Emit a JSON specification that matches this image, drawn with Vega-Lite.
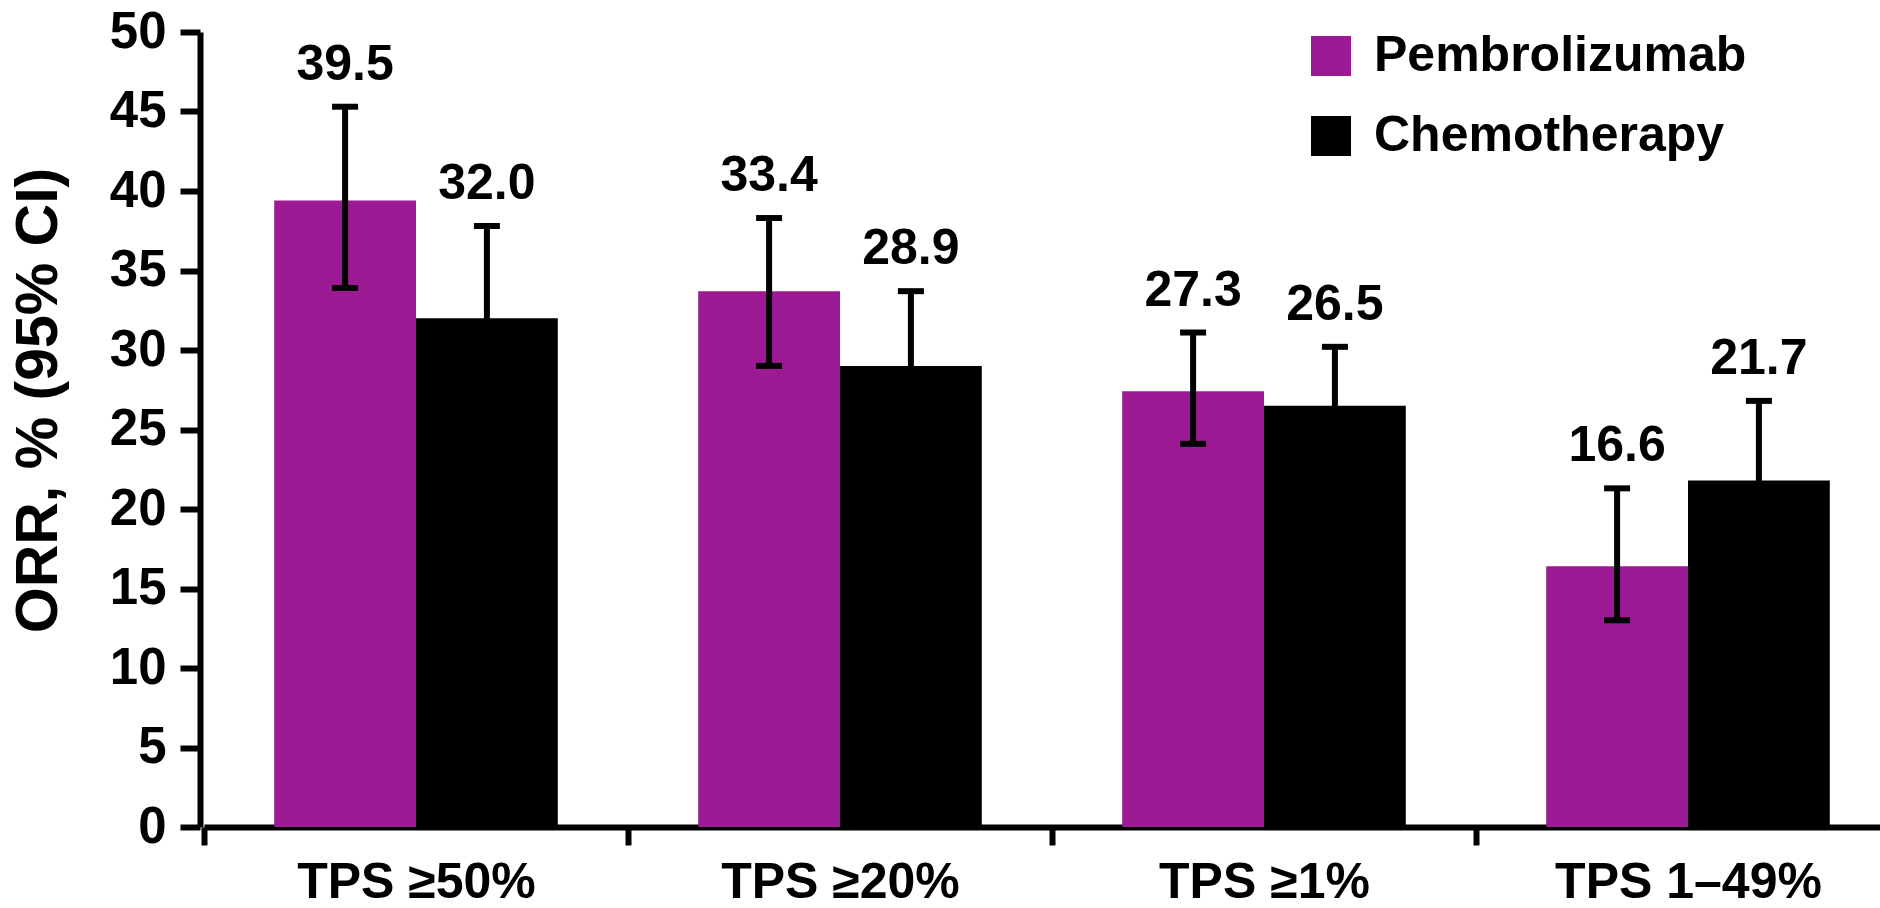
{
  "$schema": "https://vega.github.io/schema/vega-lite/v6.json",
  "width": 1680,
  "height": 795,
  "autosize": "none",
  "padding": {"left": 200, "top": 32, "right": 0, "bottom": 81},
  "background": "white",
  "config": {
    "font": "Liberation Sans",
    "view": {"stroke": null},
    "axis": {"grid": false}
  },
  "data": {
    "values": [
      {"group": "TPS ≥50%", "arm": "Pembrolizumab", "value": 39.4, "label": "39.5", "lo": 33.9, "hi": 45.3},
      {"group": "TPS ≥50%", "arm": "Chemotherapy", "value": 32.0, "label": "32.0", "lo": 26.6, "hi": 37.8},
      {"group": "TPS ≥20%", "arm": "Pembrolizumab", "value": 33.7, "label": "33.4", "lo": 29.0, "hi": 38.3},
      {"group": "TPS ≥20%", "arm": "Chemotherapy", "value": 29.0, "label": "28.9", "lo": 24.5, "hi": 33.7},
      {"group": "TPS ≥1%", "arm": "Pembrolizumab", "value": 27.4, "label": "27.3", "lo": 24.1, "hi": 31.1},
      {"group": "TPS ≥1%", "arm": "Chemotherapy", "value": 26.5, "label": "26.5", "lo": 23.4, "hi": 30.2},
      {"group": "TPS 1–49%", "arm": "Pembrolizumab", "value": 16.4, "label": "16.6", "lo": 13.0, "hi": 21.3},
      {"group": "TPS 1–49%", "arm": "Chemotherapy", "value": 21.8, "label": "21.7", "lo": 17.0, "hi": 26.8}
    ]
  },
  "encoding": {
    "x": {
      "field": "group",
      "type": "nominal",
      "sort": ["TPS ≥50%", "TPS ≥20%", "TPS ≥1%", "TPS 1–49%"],
      "scale": {"range": [4, 1700], "paddingInner": 0, "paddingOuter": 0},
      "axis": {
        "title": null,
        "labelAngle": 0,
        "labelFontSize": 50,
        "labelFontWeight": "bold",
        "labelColor": "black",
        "labelPadding": 12,
        "labelLimit": 0,
        "tickBand": "extent",
        "tickSize": 18,
        "tickWidth": 6,
        "tickColor": "black",
        "domainWidth": 6,
        "domainColor": "black"
      }
    },
    "xOffset": {
      "field": "arm",
      "type": "nominal",
      "sort": ["Pembrolizumab", "Chemotherapy"],
      "scale": {"paddingInner": 0, "paddingOuter": 0.495}
    }
  },
  "layer": [
    {
      "mark": {"type": "bar"},
      "encoding": {
        "y": {
          "field": "value",
          "type": "quantitative",
          "scale": {"domain": [0, 50], "nice": false, "zero": true},
          "axis": {
            "title": "ORR, % (95% CI)",
            "titleFontSize": 59,
            "titleFontWeight": "bold",
            "titleColor": "black",
            "titleAngle": -90,
            "titleX": -162,
            "titleY": 368,
            "titleAlign": "center",
            "titleBaseline": "middle",
            "values": [0, 5, 10, 15, 20, 25, 30, 35, 40, 45, 50],
            "labelFontSize": 51,
            "labelFontWeight": "bold",
            "labelColor": "black",
            "labelPadding": 14,
            "tickSize": 20,
            "tickWidth": 6,
            "tickColor": "black",
            "domainWidth": 6,
            "domainColor": "black"
          }
        },
        "color": {
          "field": "arm",
          "type": "nominal",
          "sort": ["Pembrolizumab", "Chemotherapy"],
          "scale": {"domain": ["Pembrolizumab", "Chemotherapy"], "range": ["#9C1A94", "#000000"]},
          "legend": {
            "title": null,
            "orient": "none",
            "legendX": 1106,
            "legendY": -1,
            "symbolType": "square",
            "symbolSize": 1600,
            "symbolStrokeWidth": 0,
            "labelFontSize": 50,
            "labelFontWeight": "bold",
            "labelColor": "black",
            "labelOffset": 18,
            "labelLimit": 0,
            "rowPadding": 30,
            "padding": 0
          }
        }
      }
    },
    {
      "mark": {"type": "rule", "color": "black", "strokeWidth": 6},
      "encoding": {
        "y": {"field": "lo", "type": "quantitative"},
        "y2": {"field": "hi"}
      }
    },
    {
      "mark": {"type": "tick", "color": "black", "opacity": 1, "thickness": 6, "size": 26, "orient": "horizontal"},
      "encoding": {
        "y": {"field": "lo", "type": "quantitative"}
      }
    },
    {
      "mark": {"type": "tick", "color": "black", "opacity": 1, "thickness": 6, "size": 26, "orient": "horizontal"},
      "encoding": {
        "y": {"field": "hi", "type": "quantitative"}
      }
    },
    {
      "mark": {"type": "text", "fontSize": 50, "fontWeight": "bold", "color": "black", "baseline": "alphabetic", "dy": -27},
      "encoding": {
        "y": {"field": "hi", "type": "quantitative"},
        "text": {"field": "label"}
      }
    }
  ]
}
